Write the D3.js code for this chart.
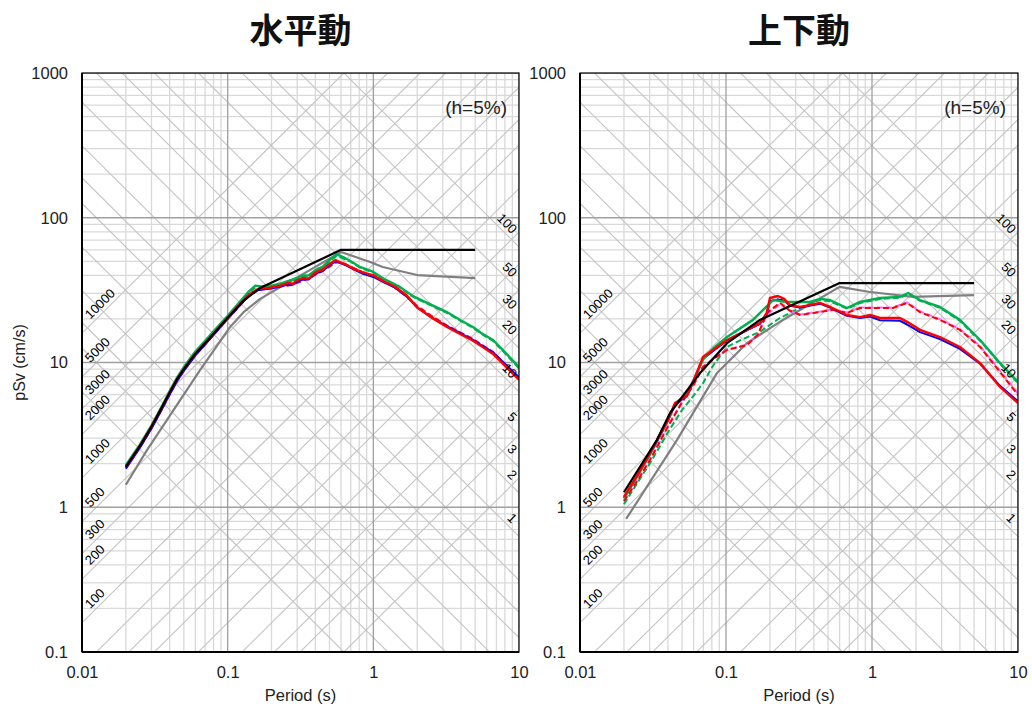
<!DOCTYPE html>
<html><head><meta charset="utf-8">
<script src="https://cdn.jsdelivr.net/npm/d3@7"></script>
<style>body{margin:0;background:#fff} svg{display:block}</style>
</head><body><svg id="c" width="1032" height="709"></svg>
<script>
// ---------- data ----------
const panelTitles = ["水平動", "上下動"];
const periodTicks = [0.01, 0.1, 1, 10];
const periodTickLabels = ["0.01", "0.1", "1", "10"];
const svTicks = [0.1, 1, 10, 100, 1000];
const svTickLabels = ["0.1", "1", "10", "100", "1000"];
const accelLines = [1, 2, 3, 5, 10, 20, 30, 50, 100, 200, 300, 500, 1000, 2000, 3000, 5000, 10000];
const accelLabels = [100, 200, 300, 500, 1000, 2000, 3000, 5000, 10000];
const dispLines = [0.01, 0.02, 0.03, 0.05, 0.1, 0.2, 0.3, 0.5, 1, 2, 3, 5, 10, 20, 30, 50, 100];
const dispLabels = [1, 2, 3, 5, 10, 20, 30, 50, 100];
const dampingNote = "(h=5%)";
const xTitle = "Period (s)";
const yTitle = "pSv (cm/s)";

// 水平動 (horizontal) [period s, pSv cm/s]
const hBlack = [[0.02,1.9],[0.025,2.65],[0.03,3.6],[0.035,4.8],[0.04,6.2],[0.045,7.7],[0.05,9.0],[0.06,11.5],[0.07,13.6],[0.08,15.8],[0.1,20.4],[0.13,27],[0.167,32.7],[0.6,60],[5.0,60]];
const hGray = [[0.02,1.43],[0.028,2.49],[0.0646,8.87],[0.104,17.6],[0.13,22.5],[0.167,27.5],[0.6,58],[0.95,49.5],[1.16,45.7],[2.0,40.2],[5.0,38.3]];
const hGreenDash = [[0.02,1.92],[0.025,2.68],[0.03,3.62],[0.035,4.85],[0.04,6.25],[0.045,7.8],[0.05,9.1],[0.06,11.7],[0.07,13.9],[0.08,16.2],[0.1,20.6],[0.12,25.5],[0.14,30.5],[0.155,33],[0.17,33],[0.2,33.5],[0.23,35],[0.27,37],[0.3,37.5],[0.33,39],[0.36,39.5],[0.4,42.5],[0.45,45],[0.5,50],[0.56,54.5],[0.62,52.5],[0.7,49.5],[0.8,45.5],[1.0,41.8],[1.2,37],[1.52,33],[1.9,28.2],[2.34,25.5],[3.2,22],[4.0,19.3],[4.83,17.4],[5.5,15.8],[6.63,14.1],[8,11.6],[10,9.1]];
const hPinkDash = [[0.02,1.85],[0.025,2.58],[0.03,3.5],[0.035,4.65],[0.04,6.0],[0.045,7.45],[0.05,8.75],[0.06,11.2],[0.07,13.3],[0.08,15.5],[0.1,20],[0.12,24.5],[0.14,29],[0.16,31.5],[0.18,32.2],[0.2,32.8],[0.23,33.5],[0.26,34.2],[0.3,35.5],[0.33,37],[0.36,37.8],[0.4,40.5],[0.45,43],[0.5,46.5],[0.55,49],[0.6,49.2],[0.66,47],[0.75,44.2],[0.85,41.8],[1.0,39.5],[1.2,36],[1.4,33.2],[1.7,28.8],[2.0,24.5],[2.5,21],[3.2,18],[4,16],[4.8,14.6],[5.5,13.4],[6.6,11.9],[8,9.8],[10,7.9]];
const hRedDash = [[0.02,1.88],[0.025,2.62],[0.03,3.55],[0.035,4.7],[0.04,6.1],[0.045,7.55],[0.05,8.85],[0.06,11.3],[0.07,13.4],[0.08,15.6],[0.1,20],[0.12,24.5],[0.14,29],[0.16,31.5],[0.18,32.5],[0.2,33],[0.23,33.5],[0.26,34],[0.3,35.5],[0.33,37],[0.36,38],[0.4,40.5],[0.45,43],[0.5,46],[0.55,49],[0.6,49.5],[0.66,47],[0.75,44.5],[0.85,42],[1.0,39.5],[1.2,36],[1.4,33],[1.7,28.5],[2.0,24.5],[2.5,21],[3.2,18],[4,16],[4.8,14.6],[5.5,13.3],[6.6,11.8],[8,9.7],[10,7.8]];
const hBlue = [[0.02,1.85],[0.025,2.58],[0.03,3.5],[0.035,4.65],[0.04,6.0],[0.045,7.45],[0.05,8.75],[0.06,11.2],[0.07,13.3],[0.08,15.5],[0.1,20],[0.12,24.5],[0.14,29],[0.16,31.5],[0.18,32],[0.2,32.5],[0.23,33.5],[0.26,34.5],[0.28,34.5],[0.3,36],[0.33,37.5],[0.36,37.5],[0.4,41],[0.45,43],[0.5,47],[0.55,50],[0.6,48.5],[0.66,46.5],[0.75,43.5],[0.85,41],[1.0,39],[1.2,35.5],[1.4,33],[1.7,28.5],[2.0,24],[2.5,20.5],[3.2,17.8],[4,15.8],[4.8,14.4],[5.5,13.2],[6.6,11.8],[8,9.8],[10,7.9]];
const hGreen = [[0.02,1.95],[0.025,2.72],[0.03,3.68],[0.035,4.9],[0.04,6.35],[0.045,7.9],[0.05,9.3],[0.06,11.9],[0.07,14.1],[0.08,16.4],[0.1,21],[0.12,26],[0.14,31],[0.155,34],[0.17,33.5],[0.2,34],[0.23,35],[0.26,36.5],[0.3,38.5],[0.33,40],[0.36,40],[0.4,43.5],[0.45,46],[0.5,51],[0.56,56],[0.62,53.5],[0.7,50],[0.8,46],[1.0,42.2],[1.2,37.5],[1.52,33.3],[1.9,28.5],[2.34,25.8],[3.2,22.3],[4.0,19.5],[4.83,17.6],[5.5,16],[6.63,14.3],[8,11.8],[10,9.3]];
const hRed = [[0.02,1.9],[0.025,2.65],[0.03,3.6],[0.035,4.8],[0.04,6.2],[0.045,7.7],[0.05,9.0],[0.06,11.5],[0.07,13.6],[0.08,15.8],[0.1,20.3],[0.12,25],[0.14,29.5],[0.16,32],[0.18,32.5],[0.2,33],[0.23,34],[0.26,35.5],[0.28,35],[0.3,37],[0.33,38.4],[0.36,38],[0.4,42],[0.45,44],[0.5,48],[0.55,51],[0.6,49],[0.66,47],[0.75,44],[0.85,42],[1.0,40],[1.2,36],[1.4,33.5],[1.7,29],[2.0,24],[2.5,20.5],[3.2,17.6],[4,15.6],[4.8,14.2],[5.5,13],[6.6,11.5],[8,9.5],[10,7.6]];

// 上下動 (vertical)
const vBlack = [[0.02,1.27],[0.0336,2.91],[0.0414,4.48],[0.0664,8.45],[0.1016,13.6],[0.171,19.7],[0.6,35.4],[5.0,35.4]];
const vGray = [[0.0207,0.83],[0.0461,2.91],[0.0867,8.45],[0.139,13.6],[0.234,19.1],[0.6,33.3],[0.969,30.7],[1.91,28.4],[5.0,29.2]];
const vGreenDash = [[0.02,1.05],[0.025,1.5],[0.03,2.0],[0.035,2.6],[0.04,3.3],[0.05,4.7],[0.06,5.9],[0.0696,7.2],[0.0815,9.5],[0.1016,12.8],[0.13,14.5],[0.171,16.3],[0.234,20.3],[0.321,23.8],[0.376,25.5],[0.44,27],[0.515,26.5],[0.674,23.5],[0.828,25.8],[1.135,27.5],[1.556,28],[1.77,29.8],[2.13,26.7],[2.92,23.9],[4.0,19.4],[5.5,14.1],[7.53,9.8],[10,7.2]];
const vPinkDash = [[0.02,1.12],[0.025,1.57],[0.03,2.12],[0.035,2.82],[0.04,3.65],[0.05,5.4],[0.06,7.1],[0.0696,9.4],[0.0815,10.6],[0.1016,12.3],[0.139,13.3],[0.165,15.6],[0.191,21.5],[0.234,25.3],[0.27,22.8],[0.321,21.5],[0.44,22.5],[0.541,23.3],[0.674,22.2],[0.828,24],[1.135,24],[1.39,24],[1.74,26],[2.13,22.6],[2.92,19.9],[4.0,17],[5.5,13],[7.53,8.8],[10,6.1]];
const vRedDash = [[0.02,1.1],[0.025,1.55],[0.03,2.1],[0.035,2.8],[0.04,3.6],[0.05,5.3],[0.06,7.0],[0.0696,9.3],[0.0815,10.5],[0.1016,12.2],[0.139,13.2],[0.165,15.5],[0.191,22.0],[0.234,25.8],[0.27,23],[0.321,21.3],[0.44,22.3],[0.541,23.1],[0.674,22.0],[0.828,23.8],[1.135,23.8],[1.39,23.8],[1.74,25.8],[2.13,22.3],[2.92,19.7],[4.0,16.8],[5.5,12.8],[7.53,8.6],[10,5.96]];
const vBlue = [[0.02,1.16],[0.025,1.68],[0.03,2.3],[0.0337,2.85],[0.04,3.95],[0.0448,5.1],[0.0541,5.9],[0.06,7.4],[0.0696,10.6],[0.0815,12.0],[0.1016,14.2],[0.12,15.5],[0.139,16.7],[0.171,18.5],[0.19,21.5],[0.2,26.5],[0.227,27.3],[0.25,26.8],[0.274,24.7],[0.321,24.0],[0.38,24.8],[0.44,25.5],[0.515,24.0],[0.6,22.2],[0.674,21.0],[0.828,20.3],[0.969,20.8],[1.135,19.6],[1.556,19.4],[1.74,18.3],[2.13,16.2],[2.92,14.5],[4.0,12.4],[5.5,9.8],[7.53,6.9],[10,5.4]];
const vGreen = [[0.02,1.15],[0.025,1.68],[0.03,2.3],[0.0337,2.9],[0.04,4.0],[0.0448,5.2],[0.0541,6.1],[0.06,7.6],[0.0696,10.5],[0.0815,12.5],[0.1016,15.0],[0.153,19.7],[0.21,27.0],[0.262,26.2],[0.376,26.2],[0.44,27.5],[0.515,27.0],[0.674,23.8],[0.828,26.2],[1.135,27.9],[1.556,28.4],[1.77,30.2],[2.13,27.0],[2.92,24.2],[4.0,19.7],[5.5,14.3],[7.53,9.9],[10,7.33]];
const vRed = [[0.02,1.18],[0.025,1.7],[0.03,2.35],[0.0337,2.91],[0.04,4.0],[0.0448,5.25],[0.0541,5.9],[0.06,7.5],[0.0696,10.9],[0.0815,12.2],[0.1016,14.3],[0.12,15.5],[0.139,16.8],[0.171,18.7],[0.19,22],[0.2,27.9],[0.227,28.8],[0.25,27.5],[0.274,24.9],[0.321,24.2],[0.38,25],[0.44,25.8],[0.515,24.2],[0.6,22.5],[0.674,21.3],[0.828,20.6],[0.969,21.3],[1.135,20.3],[1.556,20.3],[1.74,19.1],[2.13,16.8],[2.92,15.0],[4.0,12.8],[5.5,9.9],[7.53,6.78],[10,5.25]];

// ---------- drawing ----------
const svg = d3.select("#c");
const FONT = "'Liberation Sans', Arial, sans-serif";
const plotTop = 73, plotBottom = 652;
const panels = [
  {L: 82, R: 519, title: panelTitles[0], yTitle: true,
   series: [
     {d: hGray, c: "#808080", w: 2.2},
     {d: hGreenDash, c: "#00b050", w: 2, dash: "6,3"},
     {d: hPinkDash, c: "#ff66ff", w: 2, dash: "6,3"},
     {d: hRedDash, c: "#ff0000", w: 2, dash: "6,3"},
     {d: hBlue, c: "#0000ff", w: 2},
     {d: hGreen, c: "#00b050", w: 2.4},
     {d: hRed, c: "#ff0000", w: 2.4},
     {d: hBlack, c: "#000000", w: 2.2}
   ]},
  {L: 580, R: 1018, title: panelTitles[1], yTitle: false,
   series: [
     {d: vGray, c: "#808080", w: 2.2},
     {d: vGreenDash, c: "#00b050", w: 2, dash: "6,3"},
     {d: vPinkDash, c: "#ff66ff", w: 2, dash: "6,3"},
     {d: vRedDash, c: "#ff0000", w: 2, dash: "6,3"},
     {d: vBlue, c: "#0000ff", w: 2},
     {d: vGreen, c: "#00b050", w: 2.4},
     {d: vRed, c: "#ff0000", w: 2.4},
     {d: vBlack, c: "#000000", w: 2.2}
   ]}
];

function minorValues(lo, hi) {
  const out = [];
  for (let e = Math.round(Math.log10(lo)); e < Math.round(Math.log10(hi)); e++) {
    for (let k = 2; k <= 9; k++) out.push(k * Math.pow(10, e));
  }
  return out;
}

panels.forEach((p, i) => {
  const x = d3.scaleLog().domain([0.01, 10]).range([p.L, p.R]);
  const y = d3.scaleLog().domain([0.1, 1000]).range([plotBottom, plotTop]);
  const g = svg.append("g");
  const clipId = "clip" + i;
  svg.append("clipPath").attr("id", clipId).append("rect")
    .attr("x", p.L).attr("y", plotTop).attr("width", p.R - p.L).attr("height", plotBottom - plotTop);
  const plot = g.append("g").attr("clip-path", `url(#${clipId})`);

  // minor grid
  minorValues(0.01, 10).forEach(t => {
    plot.append("line").attr("x1", x(t)).attr("x2", x(t)).attr("y1", plotTop).attr("y2", plotBottom)
      .attr("stroke", "#d9d9d9").attr("stroke-width", 1.3);
  });
  minorValues(0.1, 1000).forEach(v => {
    plot.append("line").attr("y1", y(v)).attr("y2", y(v)).attr("x1", p.L).attr("x2", p.R)
      .attr("stroke", "#d9d9d9").attr("stroke-width", 1.3);
  });
  // diagonal lines
  const T0 = 0.001, T1 = 100;
  accelLines.forEach(a => {
    plot.append("line")
      .attr("x1", x(T0)).attr("y1", y(a * T0 / (2 * Math.PI)))
      .attr("x2", x(T1)).attr("y2", y(a * T1 / (2 * Math.PI)))
      .attr("stroke", "#c4c4c4").attr("stroke-width", 1.1);
  });
  dispLines.forEach(dd => {
    plot.append("line")
      .attr("x1", x(T0)).attr("y1", y(2 * Math.PI * dd / T0))
      .attr("x2", x(T1)).attr("y2", y(2 * Math.PI * dd / T1))
      .attr("stroke", "#c4c4c4").attr("stroke-width", 1.1);
  });
  // major grid
  periodTicks.forEach(t => {
    plot.append("line").attr("x1", x(t)).attr("x2", x(t)).attr("y1", plotTop).attr("y2", plotBottom)
      .attr("stroke", "#a0a0a0").attr("stroke-width", 1.3);
  });
  svTicks.forEach(v => {
    plot.append("line").attr("y1", y(v)).attr("y2", y(v)).attr("x1", p.L).attr("x2", p.R)
      .attr("stroke", "#a0a0a0").attr("stroke-width", 1.3);
  });

  // curves
  const line = d3.line().x(d => x(d[0])).y(d => y(d[1]));
  p.series.forEach(s => {
    plot.append("path").attr("d", line(s.d)).attr("fill", "none")
      .attr("stroke", s.c).attr("stroke-width", s.w)
      .attr("stroke-dasharray", s.dash || null)
      .attr("stroke-linejoin", "round");
  });

  // frame
  g.append("rect").attr("x", p.L).attr("y", plotTop).attr("width", p.R - p.L).attr("height", plotBottom - plotTop)
    .attr("fill", "none").attr("stroke", "#000").attr("stroke-width", 1.2);
  g.append("line").attr("x1", p.L).attr("x2", p.L).attr("y1", plotTop).attr("y2", plotBottom)
    .attr("stroke", "#000").attr("stroke-width", 2);
  g.append("line").attr("x1", p.L).attr("x2", p.R).attr("y1", plotBottom).attr("y2", plotBottom)
    .attr("stroke", "#000").attr("stroke-width", 2);

  // axis tick labels
  const yAxis = d3.axisLeft(y).tickValues(svTicks).tickFormat((d, k) => svTickLabels[k]).tickSize(0).tickPadding(14);
  const ya = g.append("g").attr("transform", `translate(${p.L},0)`).call(yAxis);
  ya.select(".domain").remove();
  ya.selectAll("text").attr("font-family", FONT).attr("font-size", 16.5).attr("fill", "#222");
  const xAxis = d3.axisBottom(x).tickValues(periodTicks).tickFormat((d, k) => periodTickLabels[k]).tickSize(0).tickPadding(14);
  const xa = g.append("g").attr("transform", `translate(0,${plotBottom})`).call(xAxis);
  xa.select(".domain").remove();
  xa.selectAll("text").attr("font-family", FONT).attr("font-size", 16.5).attr("fill", "#222");

  // diagonal labels
  const k45 = 2.7;
  accelLabels.forEach(a => {
    const t = x.invert(p.L + 11);
    const px = p.L + 11 - k45, py = y(a * t / (2 * Math.PI)) - k45;
    g.append("text").attr("transform", `translate(${px},${py}) rotate(-45)`)
      .attr("font-family", FONT).attr("font-size", 13).attr("fill", "#000")
      .text(a);
  });
  dispLabels.forEach(dd => {
    const t = x.invert(p.R - 10);
    const px = p.R - 10 + k45, py = y(2 * Math.PI * dd / t) - k45;
    g.append("text").attr("transform", `translate(${px},${py}) rotate(45)`)
      .attr("font-family", FONT).attr("font-size", 13).attr("fill", "#000")
      .attr("text-anchor", "end").text(dd);
  });

  // damping note
  g.append("text").attr("x", p.R - 12).attr("y", 114).attr("text-anchor", "end")
    .attr("font-family", FONT).attr("font-size", 19).attr("fill", "#222").text(dampingNote);

  // titles
  g.append("text").attr("x", (p.L + p.R) / 2).attr("y", 28).attr("text-anchor", "middle")
    .attr("dominant-baseline", "central")
    .attr("font-family", "'Noto Sans CJK JP', sans-serif").attr("font-weight", "bold")
    .attr("font-size", 34).attr("fill", "#111").text(p.title);
  g.append("text").attr("x", (p.L + p.R) / 2).attr("y", 701).attr("text-anchor", "middle")
    .attr("font-family", FONT).attr("font-size", 16.5).attr("fill", "#222").text(xTitle);
  if (p.yTitle) {
    g.append("text").attr("transform", `translate(25,${(plotTop + plotBottom) / 2}) rotate(-90)`)
      .attr("text-anchor", "middle").attr("font-family", FONT).attr("font-size", 16)
      .attr("fill", "#222").text(yTitle);
  }
});
</script>
</body></html>
